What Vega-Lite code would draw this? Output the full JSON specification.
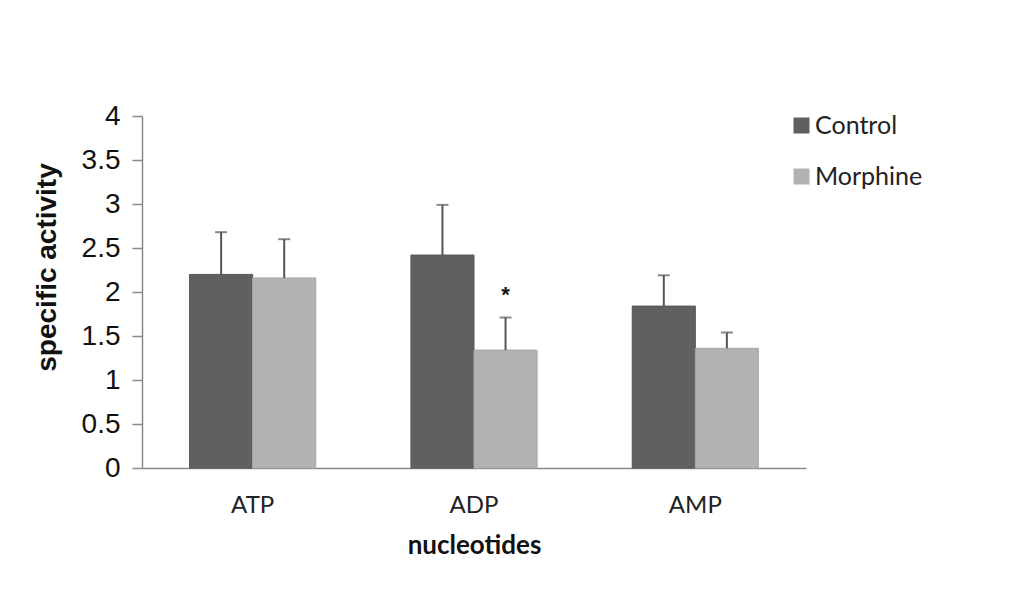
{
  "$schema": "https://vega.github.io/schema/vega-lite/v6.json",
  "autosize": "none",
  "width": 664,
  "height": 352,
  "padding": {"left": 142, "top": 116, "right": 211, "bottom": 125},
  "background": "white",
  "config": {"view": {"stroke": null}},
  "data": {
    "values": [
      {"nucleotide": "ATP", "group": "Control", "activity": 2.20, "upper": 2.68, "mark": ""},
      {"nucleotide": "ATP", "group": "Morphine", "activity": 2.16, "upper": 2.60, "mark": ""},
      {"nucleotide": "ADP", "group": "Control", "activity": 2.42, "upper": 2.99, "mark": ""},
      {"nucleotide": "ADP", "group": "Morphine", "activity": 1.34, "upper": 1.71, "mark": "*"},
      {"nucleotide": "AMP", "group": "Control", "activity": 1.84, "upper": 2.19, "mark": ""},
      {"nucleotide": "AMP", "group": "Morphine", "activity": 1.36, "upper": 1.54, "mark": ""}
    ]
  },
  "encoding": {
    "x": {
      "field": "nucleotide", "type": "nominal", "sort": ["ATP", "ADP", "AMP"],
      "scale": {"paddingInner": 0.43, "paddingOuter": 0.215},
      "axis": {
        "title": "nucleotides", "labelAngle": 0, "ticks": false,
        "domainColor": "#8a8a8a", "domainWidth": 1.5,
        "labelFont": "Lato", "labelFontSize": 24, "labelColor": "#222",
        "labelBaseline": "alphabetic", "labelPadding": 44,
        "titleFont": "Lato", "titleFontSize": 26, "titleFontWeight": "bold", "titleColor": "#111",
        "titleBaseline": "alphabetic", "titleY": 85
      }
    },
    "xOffset": {"field": "group", "type": "nominal", "sort": ["Control", "Morphine"], "scale": {"paddingInner": 0, "paddingOuter": 0}}
  },
  "layer": [
    {
      "mark": {"type": "bar", "strokeWidth": 1},
      "encoding": {
        "y": {
          "field": "activity", "type": "quantitative",
          "scale": {"domain": [0, 4]},
          "axis": {
            "title": "specific activity", "values": [0, 0.5, 1, 1.5, 2, 2.5, 3, 3.5, 4],
            "labelExpr": "datum.value",
            "grid": false, "domainColor": "#8a8a8a", "domainWidth": 1.5,
            "tickColor": "#8a8a8a", "tickSize": 10, "tickWidth": 1.5,
            "labelFont": "Liberation Sans", "labelFontSize": 28, "labelColor": "#111", "labelPadding": 12,
            "titleFont": "Liberation Sans", "titleFontSize": 28, "titleFontWeight": "bold", "titleColor": "#111",
            "titleX": -87, "titleY": 151, "titleBaseline": "alphabetic", "titleAlign": "center"
          }
        },
        "color": {
          "field": "group", "type": "nominal",
          "scale": {"domain": ["Control", "Morphine"], "range": ["#606060", "#b2b2b2"]},
          "legend": {
            "title": null, "orient": "none", "legendX": 647, "legendY": -3,
            "symbolType": "square", "symbolSize": 256, "symbolStrokeWidth": 0, "symbolOpacity": 1,
            "labelFont": "Lato", "labelFontSize": 25, "labelColor": "#222", "labelOffset": 1,
            "rowPadding": 25
          }
        },
        "stroke": {
          "field": "group", "type": "nominal",
          "scale": {"domain": ["Control", "Morphine"], "range": ["#565656", "#a8a8a8"]},
          "legend": null
        }
      }
    },
    {
      "mark": {"type": "rule", "color": "#555555", "strokeWidth": 2},
      "encoding": {"y": {"field": "activity", "type": "quantitative"}, "y2": {"field": "upper"}}
    },
    {
      "mark": {"type": "tick", "color": "#555555", "thickness": 2, "size": 12, "orient": "horizontal"},
      "encoding": {"y": {"field": "upper", "type": "quantitative"}}
    },
    {
      "mark": {"type": "text", "font": "Liberation Sans", "fontSize": 22, "fontWeight": "bold", "baseline": "top", "dy": -33, "color": "#111"},
      "encoding": {"y": {"field": "upper", "type": "quantitative"}, "text": {"field": "mark"}}
    }
  ]
}
